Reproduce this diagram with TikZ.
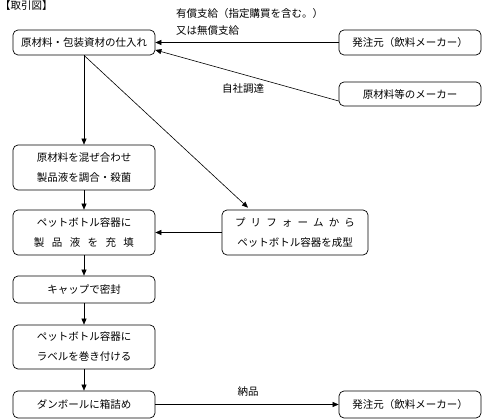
\documentclass[tikz,border=0pt]{standalone}
\usepackage{fontspec}
\setmainfont{Noto Sans CJK JP}
\usetikzlibrary{arrows.meta}

\newcommand\spreadline[2][100pt]{\makebox[#1][s]{#2}}

\begin{document}
\begin{tikzpicture}[x=1pt,y=1pt,
      font=\fontsize{10.5}{20}\selectfont,
      every node/.style={inner sep=0pt},
      stepbox/.style={draw,rounded corners=5pt,line width=0.7pt,
        minimum width=142pt,align=center},
      flow/.style={-{Triangle[length=6pt,width=5pt]},line width=0.6pt}]
      \useasboundingbox (0,0) rectangle (482,419);
      % left column
      \node[stepbox,minimum height=25pt] (buy) at (84,376.5) {原材料・包装資材の仕入れ};
      \node[stepbox,minimum height=45pt] (mix) at (84,251.5)
        {原材料を混ぜ合わせ\\製品液を調合・殺菌};
      \node[stepbox,minimum height=45pt] (fill) at (84,186.5)
        {ペットボトル容器に\\\spreadline{製 品 液 を 充 填}};
      \node[stepbox,minimum height=27pt] (cap) at (84,129.5) {キャップで密封};
      \node[stepbox,minimum height=44pt] (label) at (84,72)
        {ペットボトル容器に\\ラベルを巻き付ける};
      \node[stepbox,minimum height=27pt] (pack) at (84,14.5) {ダンボールに箱詰め};
      % right side
      \node[stepbox,minimum height=25pt] (order) at (410,376.5) {発注元（飲料メーカー）};
      \node[stepbox,minimum height=24pt] (maker) at (410,325) {原材料等のメーカー};
      \node[stepbox,minimum width=146pt,minimum height=45pt] (preform) at (295,186.5)
        {\spreadline[120pt]{プ リ フ ォ ー ム か ら}\\ペットボトル容器を成型};
      \node[stepbox,minimum height=27pt] (client) at (410,14.5) {発注元（飲料メーカー）};
      % texts
      \node[anchor=west] (title) at (0,413) {【取引図】};
      \node[anchor=west] (paid) at (176,405) {有償支給（指定購買を含む。）};
      \node[anchor=west] (free) at (176,388) {又は無償支給};
      \node (self) at (243,330) {自社調達};
      \node (deliv) at (248,27) {納品};
      % arrows
      \draw[flow] (order.west) -- (buy.east);
      \draw[flow] ([yshift=-7pt]maker.west) -- ([yshift=-7.5pt]buy.east);
      \draw[flow] (buy.south) -- (mix.north);
      \draw[flow] (buy.south) -- ([xshift=-47pt,yshift=2pt]preform.north);
      \draw[flow] (mix.south) -- (fill.north);
      \draw[flow] (preform.west) -- (fill.east);
      \draw[flow] (fill.south) -- (cap.north);
      \draw[flow] (cap.south) -- (label.north);
      \draw[flow] (label.south) -- (pack.north);
      \draw[flow] (pack.east) -- (client.west);
    \end{tikzpicture}
\end{document}
